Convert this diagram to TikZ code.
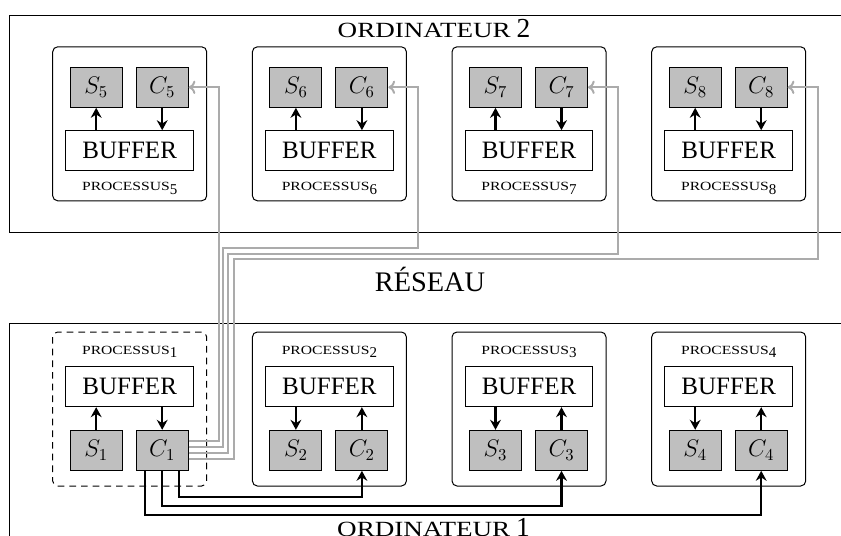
\documentclass[tikz,border=0pt]{standalone}
\usepackage[no-math]{fontspec}
\setmainfont{Liberation Serif}
\usepackage{graphicx}
\usetikzlibrary{calc,arrows.meta}
\newcommand{\fakesc}[2]{\scalebox{1.25}[1]{\fontsize{#1}{#1}\selectfont #2}}
\newcommand{\proclabel}[1]{\fakesc{7.5}{PROCESSUS}\raisebox{-2pt}{\fontsize{9}{9}\selectfont #1}}
\begin{document}
\begin{tikzpicture}[x=0.6pt,y=-0.6pt,
  outer/.style={draw, line width=0.6pt, inner sep=0pt},
  frame/.style={draw, line width=0.6pt, rounded corners=3pt, minimum width=92.4pt, minimum height=92.4pt, inner sep=0pt},
  dframe/.style={frame, dash pattern=on 4pt off 3pt},
  cell/.style={draw, line width=0.6pt, fill=black!25, minimum width=31.2pt, minimum height=24pt, inner sep=0pt, font=\fontsize{14.4}{17}\selectfont},
  buf/.style={draw, line width=0.6pt, minimum width=76.6pt, minimum height=24pt, inner sep=0pt, font=\fontsize{15}{18}\selectfont},
  plabel/.style={inner sep=0pt, anchor=base, font=\fontsize{10.95}{13}\selectfont},
  arr/.style={line width=1.3pt, -{Stealth[length=6pt,width=6.5pt,inset=2pt]}},
  glink/.style={draw=black!33, line width=1.2pt, -{To[length=4pt,width=8pt]}},
  blink/.style={line width=1.4pt, -{Stealth[length=6pt,width=6.5pt,inset=2pt]}}
]
\useasboundingbox (0,0) rectangle (841,536);
\clip (0,0) rectangle (841,536);

% computers
\node[outer, minimum width=510.4pt, minimum height=130.2pt, anchor=north west] (comp2) at (9.3,14.7) {};
\node[outer, minimum width=510.4pt, minimum height=132pt, anchor=north west] (comp1) at (9.3,323.3) {};
\node[inner sep=0pt, anchor=base] (lab2) at (434,37.7) {\fakesc{13}{ORDINATEUR}\hspace{3.5pt}{\fontsize{16.5}{18}\selectfont 2}};
\node[inner sep=0pt, anchor=base] (lab1) at (433.5,536) {\fakesc{13}{ORDINATEUR}\hspace{3.5pt}{\fontsize{16.5}{18}\selectfont 1}};
\node[inner sep=0pt, anchor=base, font=\fontsize{17}{20}\selectfont] (net) at (430,291.7) {RÉSEAU};

% top row: processes 5..8
\foreach \i/\x in {5/129.7,6/329.4,7/529.0,8/728.7}{
  \node[frame] (P\i) at (\x,123.8) {};
  \node[cell] (S\i) at (\x-33.5,87.3) {$S_{\i}$};
  \node[cell] (C\i) at (\x+32.5,87.3) {$C_{\i}$};
  \node[buf] (B\i) at (\x,150.7) {BUFFER};
  \node[plabel] (L\i) at (\x,190.7) {\proclabel{\i}};
  \draw[arr] (B\i.north -| S\i) -- (S\i.south);
  \draw[arr] (C\i.south) -- (C\i.south |- B\i.north);
}

% bottom row: processes 1..4
\node[dframe] (P1) at (129.7,409) {};
\foreach \i/\x in {2/329.4,3/529.0,4/728.7}{
  \node[frame] (P\i) at (\x,409) {};
}
\foreach \i/\x in {1/129.7,2/329.4,3/529.0,4/728.7}{
  \node[cell] (S\i) at (\x-33.5,450.3) {$S_{\i}$};
  \node[cell] (C\i) at (\x+32.5,450.3) {$C_{\i}$};
  \node[buf] (B\i) at (\x,386.7) {BUFFER};
  \node[plabel] (L\i) at (\x,354) {\proclabel{\i}};
}
\draw[arr] (S1.north) -- (S1.north |- B1.south);
\draw[arr] (B1.south -| C1) -- (C1.north);
\foreach \i in {2,3,4}{
  \draw[arr] (B\i.south -| S\i) -- (S\i.north);
  \draw[arr] (C\i.north) -- (C\i.north |- B\i.south);
}

% network links (grey)
\draw[glink] ($(C1.east)+(0,-9)$) -| ($(C5.east)+(30,0)$) -- (C5.east);
\draw[glink] ($(C1.east)+(0,-3)$) -| (223.3,248.5) -| ($(C6.east)+(30,0)$) -- (C6.east);
\draw[glink] ($(C1.east)+(0,3)$) -| (228.4,254) -| ($(C7.east)+(30,0)$) -- (C7.east);
\draw[glink] ($(C1.east)+(0,9)$) -| (233.5,259.5) -| ($(C8.east)+(30,0)$) -- (C8.east);

% local links (black)
\draw[blink] ($(C1.south)+(17,0)$) -- ++(0,26) -| (C2.south);
\draw[blink] (C1.south) -- ++(0,35) -| (C3.south);
\draw[blink] ($(C1.south)+(-17.5,0)$) -- ++(0,44) -| (C4.south);
\end{tikzpicture}
\end{document}
